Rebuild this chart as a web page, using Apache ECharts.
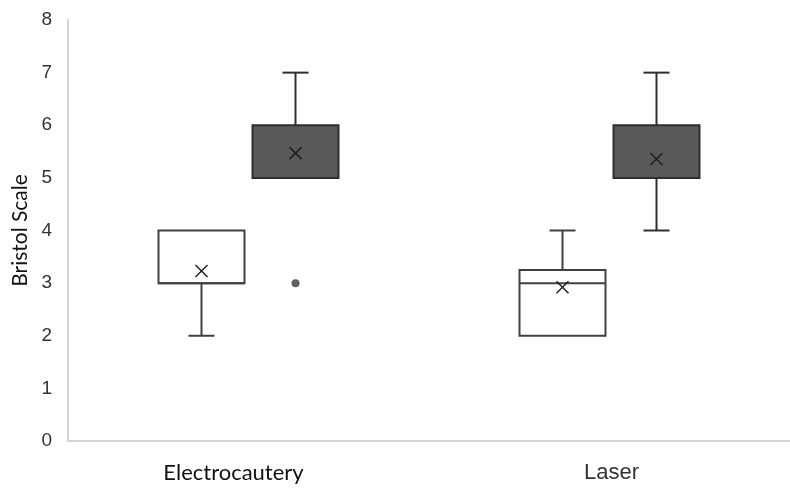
<!DOCTYPE html>
<html>
<head>
<meta charset="utf-8">
<script src="https://cdn.jsdelivr.net/npm/echarts@6/dist/echarts.min.js"></script>
<style>
  html, body { margin: 0; padding: 0; background: #fff; }
  #chart { width: 790px; height: 488px; }
</style>
</head>
<body>
<div id="chart"></div>
<script>
var categories = ['Electrocautery', 'Laser'];
// [min, Q1, median, Q3, max]
var lightBoxes = [[2, 3, 3, 4, 4], [2, 2, 3, 3.25, 4]];
var lightMeans = [3.23, 2.92];
var darkBoxes = [[5, 5, 5, 6, 7], [4, 5, 5, 6, 7]];
var darkMeans = [5.47, 5.36];
// [category index, value]
var darkOutliers = [[0, 3]];

var myChart = echarts.init(document.getElementById('chart'));

function buildRows(boxes, means) {
	return boxes.map(function (b, i) {
		return [i, b[0], b[1], b[2], b[3], b[4], means[i]];
	});
}

// box drawn at category center + shift (pixels)
function boxRenderer(shift, fill, stroke) {
	return function (params, api) {
		var cat = api.value(0);
		var x = api.coord([cat, 0])[0] + shift;
		var half = 43, cap = 13;
		var y = [1, 2, 3, 4, 5, 6].map(function (k) {
			return api.coord([cat, api.value(k)])[1];
		});
		var line = { stroke: stroke, lineWidth: 2 };
		var kids = [];
		if (api.value(1) < api.value(2)) {
			kids.push({ type: 'line', shape: { x1: x, y1: y[0], x2: x, y2: y[1] }, style: line });
			kids.push({ type: 'line', shape: { x1: x - cap, y1: y[0], x2: x + cap, y2: y[0] }, style: line });
		}
		if (api.value(5) > api.value(4)) {
			kids.push({ type: 'line', shape: { x1: x, y1: y[4], x2: x, y2: y[3] }, style: line });
			kids.push({ type: 'line', shape: { x1: x - cap, y1: y[4], x2: x + cap, y2: y[4] }, style: line });
		}
		kids.push({
			type: 'rect',
			shape: { x: x - half, y: y[3], width: half * 2, height: y[1] - y[3] },
			style: { fill: fill, stroke: stroke, lineWidth: 2 }
		});
		kids.push({ type: 'line', shape: { x1: x - half, y1: y[2], x2: x + half, y2: y[2] }, style: line });
		var m = y[5], s = 6;
		var mark = { stroke: '#1e1e1e', lineWidth: 1.5 };
		kids.push({ type: 'line', shape: { x1: x - s, y1: m - s, x2: x + s, y2: m + s }, style: mark });
		kids.push({ type: 'line', shape: { x1: x - s, y1: m + s, x2: x + s, y2: m - s }, style: mark });
		return { type: 'group', children: kids };
	};
}

var option = {
	backgroundColor: '#fff',
	animation: false,
	grid: { left: 68, right: -9, top: 20, bottom: 47 },
	xAxis: {
		type: 'category',
		data: categories,
		axisLine: { lineStyle: { color: '#d4d4d4', width: 2 } },
		axisTick: { show: false },
		axisLabel: {
			margin: 21,
			formatter: function (v) {
				return v === 'Electrocautery' ? '{a|' + v + '}' : '{b|' + v + '}';
			},
			rich: {
				a: { fontFamily: 'Lato', fontSize: 22, color: '#111', padding: [0, 30, 0, 0] },
				b: { fontFamily: 'Liberation Sans', fontSize: 22, color: '#333', padding: [0, 0, 0, 4] }
			}
		}
	},
	yAxis: {
		type: 'value',
		min: 0,
		max: 8,
		interval: 1,
		name: 'Bristol Scale',
		nameLocation: 'middle',
		nameGap: 34,
		nameRotate: 90,
		nameTextStyle: { fontFamily: 'Lato', fontSize: 21, color: '#111' },
		axisLine: { show: true, lineStyle: { color: '#d4d4d4', width: 2 } },
		axisTick: { show: false },
		splitLine: { show: false },
		axisLabel: { margin: 16, fontFamily: 'Liberation Sans', fontSize: 19, color: '#333' }
	},
	series: [
		{
			type: 'custom',
			renderItem: boxRenderer(-47, '#ffffff', '#404040'),
			encode: { x: 0, y: [1, 2, 3, 4, 5, 6] },
			data: buildRows(lightBoxes, lightMeans)
		},
		{
			type: 'custom',
			renderItem: boxRenderer(47, '#595959', '#2e2e2e'),
			encode: { x: 0, y: [1, 2, 3, 4, 5, 6] },
			data: buildRows(darkBoxes, darkMeans)
		},
		{
			type: 'scatter',
			symbol: 'circle',
			symbolSize: 8,
			symbolOffset: [47, 0],
			itemStyle: { color: '#3a3a3a' },
			data: darkOutliers
		}
	]
};
myChart.setOption(option);
</script>
</body>
</html>
